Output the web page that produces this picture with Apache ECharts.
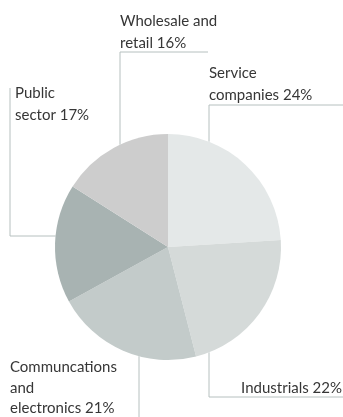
<!DOCTYPE html>
<html>
<head>
<meta charset="utf-8">
<style>
  html, body { margin: 0; padding: 0; background: #fff; }
  #chart { width: 343px; height: 417px; }
</style>
<script src="https://cdn.jsdelivr.net/npm/echarts@6/dist/echarts.min.js"></script>
</head>
<body>
<div id="chart"></div>
<script>
// Sector names (line breaks are where the label wraps) and their shares, in %
const categories = [
  'Service\ncompanies',
  'Industrials',
  'Communcations\nand\nelectronics',
  'Public\nsector',
  'Wholesale and\nretail'
];
const shares = [24, 22, 21, 17, 16];
const sliceColors = ['#e4e8e8', '#d5dad9', '#c3cbca', '#a8b3b2', '#cdcdcd'];

// Pie geometry (px)
const CX = 168, CY = 247, R = 113;

// Where each label sits and how its elbow leader runs.
// side: which half of the circle the vertical leg reaches ('top' | 'bottom');
// for the 'left' style the horizontal leg reaches the circle instead.
const labelPlacement = [
  { tx: 209, ty: 62,  lh: 22, align: 'left',  legX: 209, elbowY: 105, endX: 343, side: 'top' },
  { tx: 342, ty: 377, lh: 22, align: 'right', legX: 209, elbowY: 397, endX: 343, side: 'bottom' },
  { tx: 10,  ty: 357, lh: 20.5, align: 'left', legX: 139, elbowY: 417, endX: null, side: 'bottom' },
  { tx: 15,  ty: 82,  lh: 22, align: 'left',  legX: 10,  elbowY: 236, topY: 88, style: 'left' },
  { tx: 120, ty: 10,  lh: 22, align: 'left',  legX: 120, elbowY: 52,  endX: 208, side: 'top' }
];

function circleY(x, side) {
  const dy = Math.sqrt(Math.max(0, R * R - (x - CX) * (x - CX)));
  return side === 'top' ? CY - dy : CY + dy;
}
function circleX(y) {
  const dx = Math.sqrt(Math.max(0, R * R - (y - CY) * (y - CY)));
  return CX - dx;
}

function leaderPoints(p) {
  if (p.style === 'left') {
    return [[p.legX, p.topY], [p.legX, p.elbowY], [circleX(p.elbowY), p.elbowY]];
  }
  const onCircle = [p.legX, circleY(p.legX, p.side)];
  if (p.endX == null) {
    return [[p.legX, p.elbowY], onCircle];
  }
  return [[p.endX, p.elbowY], [p.legX, p.elbowY], onCircle];
}

const chart = echarts.init(document.getElementById('chart'));

chart.setOption({
  animation: false,
  backgroundColor: '#ffffff',
  series: [{
    type: 'pie',
    center: [CX, CY],
    radius: R,
    startAngle: 90,
    clockwise: true,
    avoidLabelOverlap: false,
    silent: true,
    data: categories.map((name, i) => ({
      name: name,
      value: shares[i],
      itemStyle: { color: sliceColors[i] },
      label: { lineHeight: labelPlacement[i].lh }
    })),
    label: {
      show: true,
      formatter: (p) => p.name + ' ' + p.value + '%',
      fontFamily: 'Lato',
      fontSize: 15,
      lineHeight: 22,
      color: '#363636'
    },
    labelLine: {
      show: true,
      smooth: false,
      lineStyle: { color: '#b6c0bf', width: 1 }
    },
    labelLayout: function (params) {
      const p = labelPlacement[params.dataIndex];
      return {
        x: p.tx,
        y: p.ty,
        align: p.align,
        verticalAlign: 'top',
        labelLinePoints: leaderPoints(p)
      };
    }
  }]
});
</script>
</body>
</html>
